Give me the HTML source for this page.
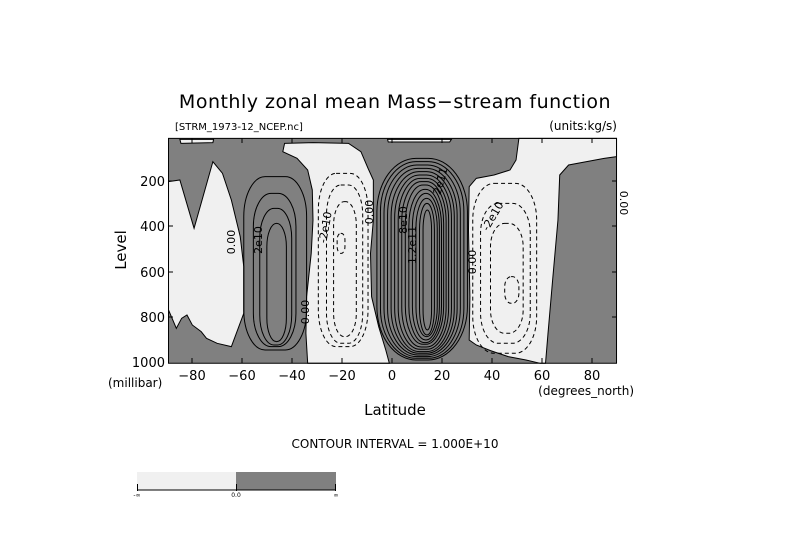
<!DOCTYPE html>
<html><head><meta charset="utf-8"><style>
html,body{margin:0;padding:0;background:#fff;}
svg{display:block;}
text{font-family:"DejaVu Sans","Liberation Sans",sans-serif;fill:#000;}
</style></head><body>
<svg width="789" height="558" viewBox="0 0 789 558" xmlns="http://www.w3.org/2000/svg">
<rect width="789" height="558" fill="#fff"/>
<g transform="translate(100,80) scale(0.355,0.3333)">
<rect x="193" y="175" width="1262" height="675" fill="#808080"/>
<g fill="#f0f0f0" stroke="#000" stroke-width="1" vector-effect="non-scaling-stroke">
<polygon vector-effect="non-scaling-stroke" points="193,305 225,300 265,445 318,245 345,280 370,360 395,470 405,560 405,700 370,800 330,790 300,775 285,755 260,735 245,705 230,715 215,745 205,720 193,690"/>
<polygon vector-effect="non-scaling-stroke" points="520,190 600,188 700,190 735,215 755,265 770,300 770,420 762,520 765,650 785,740 805,810 815,850 585,850 580,760 582,650 595,520 600,420 598,330 585,270 555,235 515,215"/>
<polygon vector-effect="non-scaling-stroke" points="1180,175 1455,175 1455,230 1420,235 1320,255 1295,285 1290,420 1275,600 1262,760 1255,850 1240,850 1200,840 1150,830 1100,812 1060,795 1040,780 1042,650 1038,450 1040,320 1060,295 1110,285 1155,270 1172,240"/>
<polygon vector-effect="non-scaling-stroke" points="225,178 320,178 318,188 228,190"/>
<polygon vector-effect="non-scaling-stroke" points="810,178 990,178 985,186 812,186"/>
</g>
<g fill="none" stroke="#000" stroke-width="1">
<rect vector-effect="non-scaling-stroke" x="405" y="290" width="177" height="520" rx="60" ry="120"/>
<rect vector-effect="non-scaling-stroke" x="432" y="340" width="120" height="460" rx="50" ry="100"/>
<rect vector-effect="non-scaling-stroke" x="450" y="385" width="90" height="410" rx="40" ry="90"/>
<rect vector-effect="non-scaling-stroke" x="470" y="430" width="55" height="355" rx="27" ry="70"/>
</g>
<g fill="none" stroke="#000" stroke-width="1" stroke-dasharray="4,3">
<rect vector-effect="non-scaling-stroke" x="615" y="280" width="140" height="520" rx="50" ry="110"/>
<rect vector-effect="non-scaling-stroke" x="638" y="315" width="102" height="475" rx="40" ry="90"/>
<rect vector-effect="non-scaling-stroke" x="658" y="365" width="64" height="405" rx="30" ry="70"/>
<rect vector-effect="non-scaling-stroke" x="668" y="460" width="22" height="60" rx="10" ry="20"/>
<rect vector-effect="non-scaling-stroke" x="1050" y="310" width="180" height="510" rx="60" ry="110"/>
<rect vector-effect="non-scaling-stroke" x="1072" y="370" width="140" height="420" rx="50" ry="90"/>
<rect vector-effect="non-scaling-stroke" x="1100" y="430" width="92" height="330" rx="40" ry="70"/>
<rect vector-effect="non-scaling-stroke" x="1140" y="590" width="40" height="80" rx="18" ry="30"/>
</g>
<g fill="none" stroke="#000" stroke-width="1">
<rect vector-effect="non-scaling-stroke" x="780" y="235" width="255" height="605" rx="110" ry="160"/>
<rect vector-effect="non-scaling-stroke" x="790" y="245" width="235" height="590" rx="100" ry="150"/>
<rect vector-effect="non-scaling-stroke" x="800" y="255" width="215" height="575" rx="92" ry="145"/>
<rect vector-effect="non-scaling-stroke" x="810" y="265" width="196" height="560" rx="85" ry="140"/>
<rect vector-effect="non-scaling-stroke" x="820" y="275" width="178" height="545" rx="78" ry="135"/>
<rect vector-effect="non-scaling-stroke" x="830" y="285" width="160" height="530" rx="70" ry="130"/>
<rect vector-effect="non-scaling-stroke" x="840" y="295" width="142" height="513" rx="62" ry="125"/>
<rect vector-effect="non-scaling-stroke" x="850" y="305" width="125" height="496" rx="55" ry="120"/>
<rect vector-effect="non-scaling-stroke" x="860" y="315" width="108" height="478" rx="50" ry="115"/>
<rect vector-effect="non-scaling-stroke" x="870" y="328" width="92" height="460" rx="45" ry="110"/>
<rect vector-effect="non-scaling-stroke" x="880" y="340" width="76" height="440" rx="38" ry="100"/>
<rect vector-effect="non-scaling-stroke" x="890" y="355" width="60" height="415" rx="30" ry="90"/>
<rect vector-effect="non-scaling-stroke" x="900" y="370" width="42" height="395" rx="21" ry="80"/>
<rect vector-effect="non-scaling-stroke" x="910" y="390" width="24" height="360" rx="12" ry="60"/>
</g>
<rect vector-effect="non-scaling-stroke" x="193" y="175" width="1262" height="675" fill="none" stroke="#000" stroke-width="1"/>
</g>
<!-- ticks -->
<g stroke="#000" stroke-width="1">
<line x1="192" y1="363" x2="192" y2="358"/><line x1="242" y1="363" x2="242" y2="358"/><line x1="292" y1="363" x2="292" y2="358"/><line x1="342" y1="363" x2="342" y2="358"/><line x1="392" y1="363" x2="392" y2="358"/><line x1="442" y1="363" x2="442" y2="358"/><line x1="492" y1="363" x2="492" y2="358"/><line x1="542" y1="363" x2="542" y2="358"/><line x1="592" y1="363" x2="592" y2="358"/>
<line x1="192" y1="138" x2="192" y2="143"/><line x1="242" y1="138" x2="242" y2="143"/><line x1="292" y1="138" x2="292" y2="143"/><line x1="342" y1="138" x2="342" y2="143"/><line x1="392" y1="138" x2="392" y2="143"/><line x1="442" y1="138" x2="442" y2="143"/><line x1="492" y1="138" x2="492" y2="143"/><line x1="542" y1="138" x2="542" y2="143"/><line x1="592" y1="138" x2="592" y2="143"/>
<line x1="168" y1="181" x2="173" y2="181"/><line x1="168" y1="226" x2="173" y2="226"/><line x1="168" y1="272" x2="173" y2="272"/><line x1="168" y1="317" x2="173" y2="317"/>
<line x1="617" y1="181" x2="612" y2="181"/><line x1="617" y1="226" x2="612" y2="226"/><line x1="617" y1="272" x2="612" y2="272"/><line x1="617" y1="317" x2="612" y2="317"/>
</g>
<!-- contour labels -->
<g font-size="11">
<text transform="translate(235,242) rotate(-90)" text-anchor="middle">0.00</text>
<text transform="translate(262,240) rotate(-90)" text-anchor="middle">2e10</text>
<text transform="translate(309,312) rotate(-90)" text-anchor="middle">0.00</text>
<text transform="translate(329,228) rotate(-80)" text-anchor="middle">-2e10</text>
<text transform="translate(373,212) rotate(-90)" text-anchor="middle">0.00</text>
<text transform="translate(407,220) rotate(-90)" text-anchor="middle">8e10</text>
<text transform="translate(416,245) rotate(-90)" text-anchor="middle">1.2e11</text>
<text transform="translate(444,182) rotate(-75)" text-anchor="middle">2e11</text>
<text transform="translate(476,262) rotate(-90)" text-anchor="middle">0.00</text>
<text transform="translate(496,218) rotate(-60)" text-anchor="middle">-2e10</text>
<text transform="translate(620,203) rotate(90)" text-anchor="middle">0.00</text>
</g>
<text x="395" y="108" font-size="19" text-anchor="middle" letter-spacing="0.5">Monthly zonal mean Mass−stream function</text>
<text x="175" y="130" font-size="10">[STRM_1973-12_NCEP.nc]</text>
<text x="617" y="130" font-size="12" text-anchor="end">(units:kg/s)</text>
<g font-size="13" text-anchor="end">
<text x="165" y="186">200</text><text x="165" y="231">400</text><text x="165" y="277">600</text><text x="165" y="322">800</text><text x="165" y="367">1000</text>
</g>
<g font-size="13" text-anchor="middle">
<text x="192" y="380">−80</text><text x="242" y="380">−60</text><text x="292" y="380">−40</text><text x="342" y="380">−20</text><text x="392" y="380">0</text><text x="442" y="380">20</text><text x="492" y="380">40</text><text x="542" y="380">60</text><text x="592" y="380">80</text>
</g>
<text x="108" y="387" font-size="12">(millibar)</text>
<text x="634" y="395" font-size="12" text-anchor="end">(degrees_north)</text>
<text transform="translate(126,250) rotate(-90)" font-size="15" text-anchor="middle">Level</text>
<text x="395" y="415" font-size="15" text-anchor="middle">Latitude</text>
<text x="395" y="448" font-size="12" text-anchor="middle">CONTOUR INTERVAL = 1.000E+10</text>
<rect x="137" y="472" width="99" height="18" fill="#f0f0f0"/>
<rect x="236" y="472" width="100" height="18" fill="#808080"/>
<g stroke="#000" stroke-width="1"><line x1="137" y1="490" x2="336" y2="490"/><line x1="137.5" y1="484" x2="137.5" y2="491"/><line x1="236.5" y1="484" x2="236.5" y2="491"/><line x1="335.5" y1="484" x2="335.5" y2="491"/></g>
<text x="137" y="497" font-size="6" text-anchor="middle">-∞</text>
<text x="236" y="497" font-size="6" text-anchor="middle">0.0</text>
<text x="336" y="497" font-size="6" text-anchor="middle">∞</text>
</svg>
</body></html>
